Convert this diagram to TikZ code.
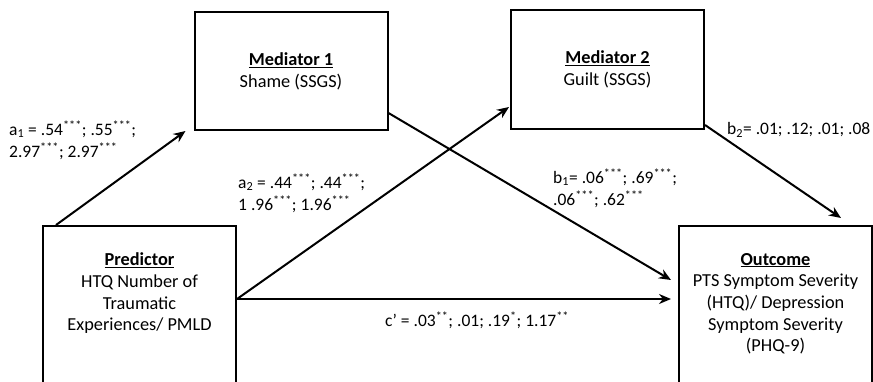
\documentclass[tikz,border=0pt]{standalone}
\usepackage{fontspec}
\setmainfont{Carlito}
\usetikzlibrary{arrows.meta}
\newcommand{\sig}[1]{\textsuperscript{#1}}
\newcommand{\boxhead}[1]{\underline{\textbf{#1}}}
\begin{document}
\begin{tikzpicture}[x=1pt, y=-1pt, font=\fontsize{18.3}{21.7}\selectfont,
	box/.style={draw, line width=2pt, minimum width=193pt, inner sep=0pt, align=center},
	link/.style={line width=2pt, -{Stealth[length=12pt,width=10pt]}},
	coef/.style={anchor=west, align=left, inner sep=0pt, font=\fontsize{17.5}{22}\selectfont}]
	\useasboundingbox (0,0) rectangle (873,381);
	\node[box, minimum height=118pt] (med1) at (291,71) {\boxhead{Mediator 1}\\Shame (SSGS)};
	\node[box, minimum height=119pt] (med2) at (607.5,69.5) {\boxhead{Mediator 2}\\Guilt (SSGS)};
	\node[box, anchor=north, minimum height=190pt] (pred) at (139.5,225)
		{\parbox[c][186pt][t]{185pt}{\centering\vspace*{25pt}\boxhead{Predictor}\\HTQ Number of\\Traumatic\\Experiences/ PMLD}};
	\node[box, anchor=north, minimum height=190pt] (out) at (775.5,225)
		{\parbox[c][186pt][t]{185pt}{\centering\vspace*{25pt}\boxhead{Outcome}\\PTS Symptom Severity\\(HTQ)/ Depression\\Symptom Severity\\(PHQ-9)}};
	% paths
	\draw[link] ([xshift=14pt]pred.north west) -- ([xshift=-8pt]med1.south west);
	\draw[link] ([yshift=-74pt]pred.north east) -- ([xshift=-1pt,yshift=23pt]med2.south west);
	\draw[link] ([yshift=18pt]med1.south east) -- ([xshift=-7pt,yshift=-55pt]out.north west);
	\draw[link] ([yshift=-74pt]pred.north east) -- ([xshift=-7pt,yshift=-74pt]out.north west);
	\draw[link] ([yshift=5pt]med2.south east) -- ([xshift=-32pt,yshift=7pt]out.north east);
	% coefficients
	\node[coef] (ca1) at (9,140) {a\textsubscript{1} = .54\sig{***}; .55\sig{***};\\2.97\sig{***}; 2.97\sig{***}};
	\node[coef] (ca2) at (238,193) {a\textsubscript{2} = .44\sig{***}; .44\sig{***};\\1 .96\sig{***}; 1.96\sig{***}};
	\node[coef] (cb1) at (553,188) {b\textsubscript{1}= .06\sig{***}; .69\sig{***};\\.06\sig{***}; .62\sig{***}};
	\node[coef] (cb2) at (727,130) {b\textsubscript{2}= .01; .12; .01; .08};
	\node[coef] (cc) at (385,320) {c' = .03\sig{**}; .01; .19\sig{*}; 1.17\sig{**}};
\end{tikzpicture}
\end{document}
